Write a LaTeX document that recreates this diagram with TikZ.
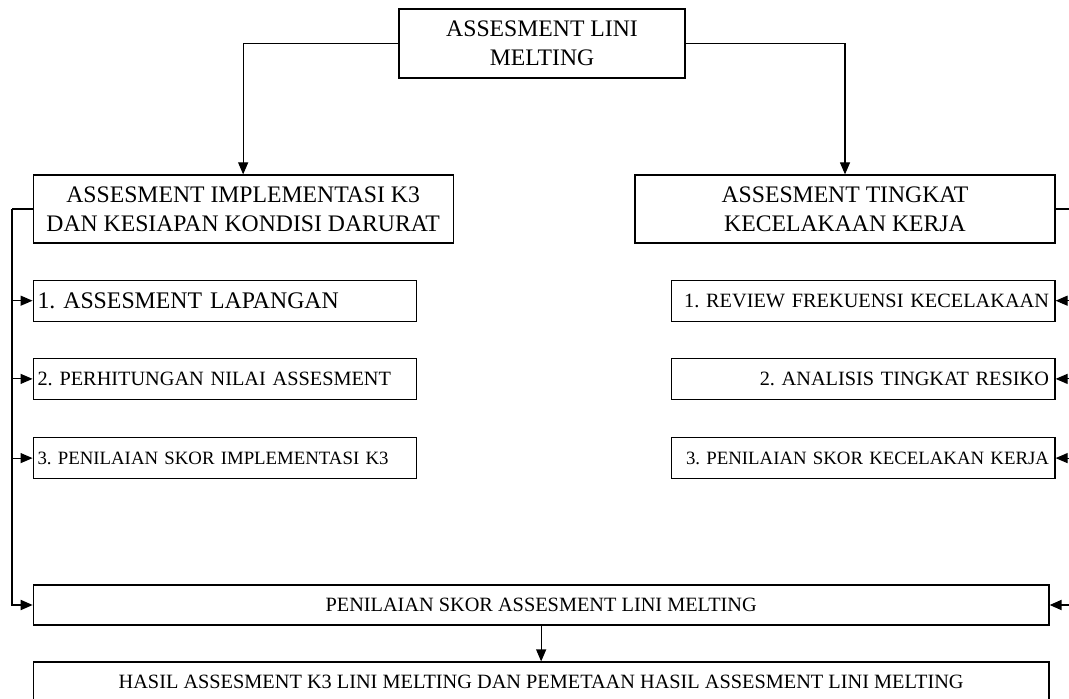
\documentclass[tikz,border=0pt]{standalone}
\usepackage{fontspec}
\setmainfont{Liberation Serif}
\usetikzlibrary{arrows.meta,positioning}
\frenchspacing

\begin{document}
\begin{tikzpicture}[x=0.5pt, y=0.5pt]
% STYLES
\tikzset{
    rect1/.style={rectangle, draw, line width=0.6pt, align=center, inner sep=0pt,
    minimum width=210pt, minimum height=34pt, font=\fontsize{11.85}{14.5}\selectfont},
    rect/.style={rectangle, draw, line width=0.6pt, inner xsep=2.2pt, inner ysep=0pt,
    minimum height=20.5pt, text width=187.3pt},
    rectR/.style={rect, align=right, inner xsep=3pt, text width=185.7pt},
    rectbig/.style={rectangle, draw, line width=0.6pt, inner sep=0pt,
    minimum width=507.85pt, minimum height=20pt, font=\fontsize{10.15}{12}\selectfont},
    link/.style={-{Triangle[length=6pt,width=5pt]}, line width=0.6pt},
    bus/.style={line width=0.9pt}
}
\useasboundingbox (0,0) rectangle (1069,-699);
\clip (0,0) rectangle (1069,-699);

\node [rect1, minimum width=143pt, minimum height=34.5pt] (Melting) at (542,-43.5) {ASSESMENT LINI\\MELTING};
\node [rect1] (Implementasi) at (243.15,-209) {ASSESMENT IMPLEMENTASI K3\\DAN KESIAPAN KONDISI DARURAT};
\node [rect1] (Kecelakaan) at (845,-209) {ASSESMENT TINGKAT\\KECELAKAAN KERJA};

% left steps
\node [rect, align=left, font=\fontsize{11.9}{14}\selectfont, below=18pt of Implementasi.south west, anchor=north west] (Lapangan) {1. ASSESMENT LAPANGAN};
\node [rect, align=left, font=\fontsize{10.15}{12}\selectfont, below=18pt of Lapangan] (Nilai) {2. PERHITUNGAN NILAI ASSESMENT};
\node [rect, align=left, font=\fontsize{9.4}{11}\selectfont, below=18.5pt of Nilai] (SkorK3) {3. PENILAIAN SKOR IMPLEMENTASI K3};

% right steps
\node [rectR, font=\fontsize{10.15}{12}\selectfont, below=18pt of Kecelakaan.south east, anchor=north east] (Frekuensi) {1. REVIEW FREKUENSI KECELAKAAN};
\node [rectR, font=\fontsize{10.15}{12}\selectfont, below=18pt of Frekuensi] (Resiko) {2. ANALISIS TINGKAT RESIKO};
\node [rectR, font=\fontsize{9.4}{11}\selectfont, below=18.5pt of Resiko] (SkorKerja) {3. PENILAIAN SKOR KECELAKAN KERJA};

\node [rectbig] (Penilaian) at (541.15,-605) {PENILAIAN SKOR ASSESMENT LINI MELTING};
\node [rectbig] (Hasil) at (541.15,-682) {HASIL ASSESMENT K3 LINI MELTING DAN PEMETAAN HASIL ASSESMENT LINI MELTING};

% Draw the links between
\coordinate (busL) at (12.3,-209);
\coordinate (busR) at (1075,-209);
\draw[link] (Melting.west) -| (Implementasi.north);
\draw[link] (Melting.east) -| (Kecelakaan.north);
\draw[bus] (Implementasi.west) -- (busL);
\draw[bus] (Kecelakaan.east) -- (busR);
\draw[bus, -{Triangle[length=6pt,width=5pt]}] (busL) |- (Penilaian.west);
\draw[bus, -{Triangle[length=6pt,width=5pt]}] (busR) |- (Penilaian.east);
\foreach \n in {Lapangan,Nilai,SkorK3}
  \draw[link] (busL |- \n.west) -- (\n.west);
\foreach \n in {Frekuensi,Resiko,SkorKerja}
  \draw[link] (busR |- \n.east) -- (\n.east);
\draw[link] (Penilaian) -- (Hasil);

\end{tikzpicture}
\end{document}
